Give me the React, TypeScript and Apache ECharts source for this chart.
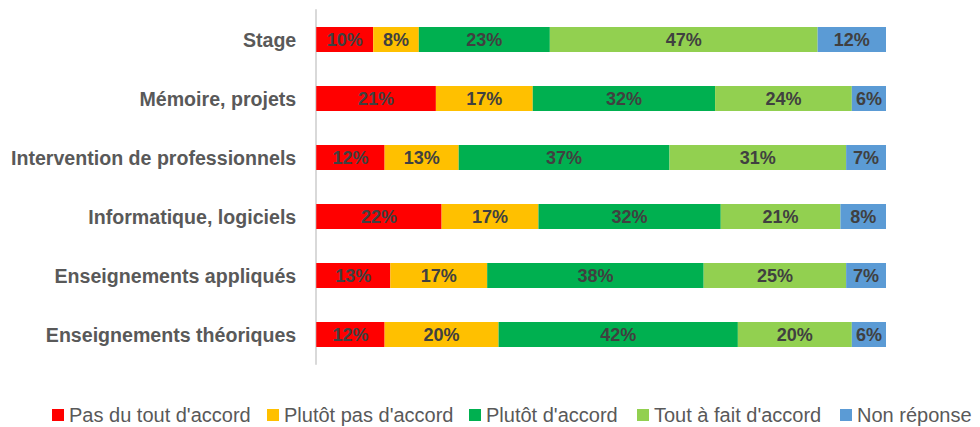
import React, { useEffect, useRef } from "react";
import * as echarts from "echarts";

const categories = [
  "Stage",
  "Mémoire, projets",
  "Intervention de professionnels",
  "Informatique, logiciels",
  "Enseignements appliqués",
  "Enseignements théoriques",
];
const seriesNames = [
  "Pas du tout d'accord",
  "Plutôt pas d'accord",
  "Plutôt d'accord",
  "Tout à fait d'accord",
  "Non réponse",
];
const pasDuTout = [10, 21, 12, 22, 13, 12];
const plutotPas = [8, 17, 13, 17, 17, 20];
const plutotAccord = [23, 32, 37, 32, 38, 42];
const toutAFait = [47, 24, 31, 21, 25, 20];
const nonReponse = [12, 6, 7, 8, 7, 6];
const colors = ["#FF0000", "#FFC000", "#00B050", "#92D050", "#5B9BD5"];

const FONT = "Liberation Sans";
const TEXT = "#595959";
const legendLeft = [39, 254, 456, 624, 827];

export default function App() {
  const ref = useRef<HTMLDivElement>(null);
  useEffect(() => {
    if (!ref.current) return;
    const chart = echarts.init(ref.current, undefined, { renderer: "svg" });
    const values = [pasDuTout, plutotPas, plutotAccord, toutAFait, nonReponse];
    chart.setOption({
      animation: false,
      grid: { left: 307, right: 94, top: 2, height: 354, containLabel: false },
      xAxis: {
        type: "value",
        min: 0,
        max: 100,
        show: false,
      },
      yAxis: {
        type: "category",
        data: categories,
        inverse: true,
        axisLine: { show: true, lineStyle: { color: "#D9D9D9", width: 2 } },
        axisTick: { show: false },
        axisLabel: {
          color: TEXT,
          fontFamily: FONT,
          fontWeight: "bold",
          fontSize: 19.6,
          margin: 20,
        },
      },
      legend: seriesNames.map((name, i) => ({
        top: 392,
        left: legendLeft[i],
        itemWidth: 12,
        itemHeight: 12,
        icon: "rect",
        textStyle: { color: TEXT, fontFamily: FONT, fontSize: 20, padding: [0, 0, 0, 0] },
        data: [name],
      })),
      series: seriesNames.map((name, i) => ({
        name,
        type: "bar",
        stack: "total",
        barWidth: 25,
        data: values[i],
        itemStyle: { color: colors[i] },
        label: {
          show: true,
          position: "inside",
          formatter: "{c}%",
          color: "#404040",
          fontFamily: FONT,
          fontWeight: "bold",
          fontSize: 18,
        },
      })),
    });
    return () => chart.dispose();
  }, []);
  return <div ref={ref} style={{ width: 972, height: 419 }} />;
}
